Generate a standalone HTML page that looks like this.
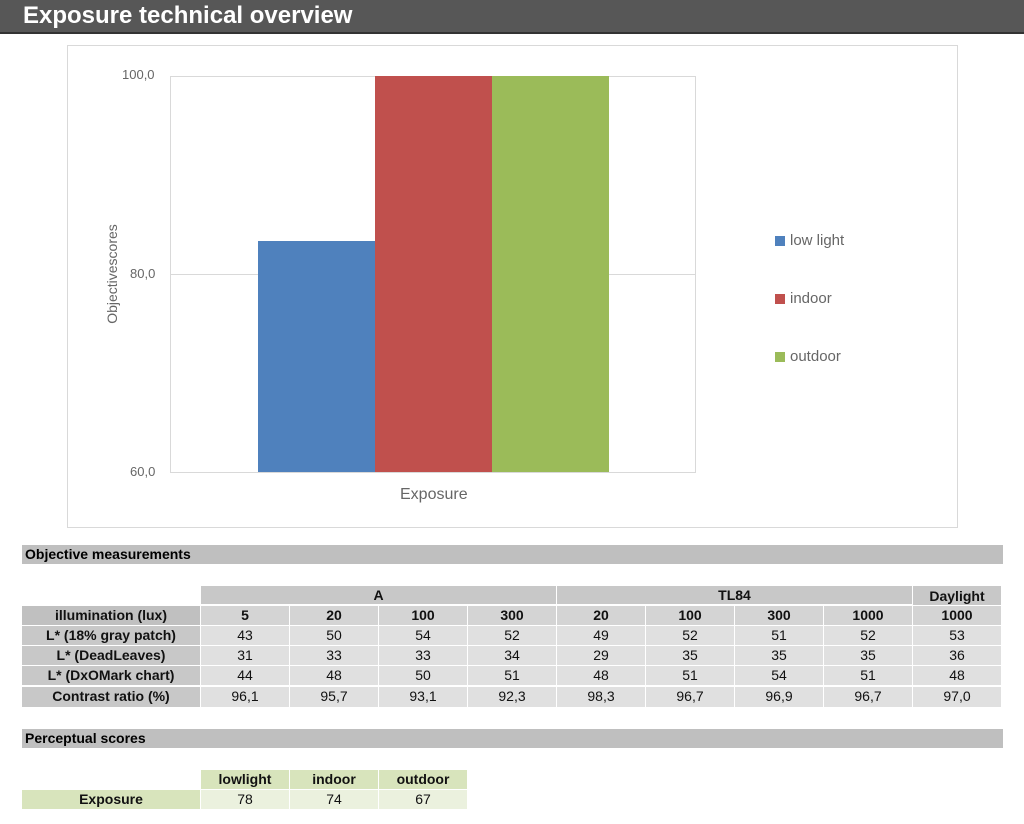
<!DOCTYPE html><html><head><style>
body{margin:0;width:1024px;height:824px;background:#fff;position:relative;font-family:"Liberation Sans",Arial,sans-serif;overflow:hidden}
.a{position:absolute}
.c{position:absolute;text-align:center;font-size:14px;line-height:19px;color:#111}
.b{font-weight:bold}
.ax{position:absolute;color:#666;font-size:13px}
</style></head><body>
<div class="a" style="left:0;top:0;width:1024px;height:32px;background:#575757;border-bottom:2px solid #333"></div>
<div class="a" style="left:23px;top:3px;color:#fff;font-weight:bold;font-size:24px;line-height:26px">Exposure technical overview</div>

<div class="a" style="left:67px;top:45px;width:889px;height:481px;border:1px solid #d9d9d9"></div>
<div class="a" style="left:170px;top:76px;width:525px;height:1px;background:#d9d9d9"></div>
<div class="a" style="left:170px;top:274px;width:525px;height:1px;background:#d9d9d9"></div>
<div class="a" style="left:170px;top:472px;width:525px;height:1px;background:#d9d9d9"></div>
<div class="a" style="left:170px;top:76px;width:1px;height:397px;background:#d9d9d9"></div>
<div class="a" style="left:695px;top:76px;width:1px;height:397px;background:#d9d9d9"></div>
<div class="a" style="left:258px;top:241px;width:117px;height:231px;background:#4f81bd"></div>
<div class="a" style="left:375px;top:76px;width:117px;height:396px;background:#c0504d"></div>
<div class="a" style="left:492px;top:76px;width:117px;height:396px;background:#9bbb59"></div>
<div class="ax" style="left:122px;top:67px">100,0</div>
<div class="ax" style="left:130px;top:266px">80,0</div>
<div class="ax" style="left:130px;top:464px">60,0</div>
<div class="ax" style="left:400px;top:486px;font-size:16px">Exposure</div>
<div class="ax" style="left:52px;top:266px;width:120px;text-align:center;font-size:14px;transform:rotate(-90deg)">Objectivescores</div>
<div class="a" style="left:775px;top:236px;width:10px;height:10px;background:#4f81bd"></div>
<div class="ax" style="left:790px;top:232px;font-size:15px">low light</div>
<div class="a" style="left:775px;top:294px;width:10px;height:10px;background:#c0504d"></div>
<div class="ax" style="left:790px;top:290px;font-size:15px">indoor</div>
<div class="a" style="left:775px;top:352px;width:10px;height:10px;background:#9bbb59"></div>
<div class="ax" style="left:790px;top:348px;font-size:15px">outdoor</div>

<div class="a" style="left:22px;top:545px;width:981px;height:19px;background:#bfbfbf"></div>
<div class="a b" style="left:25px;top:546px;font-size:14px">Objective measurements</div>

<div class="c b" style="left:201px;top:586px;width:355px;height:18px;background:#c8c8c8">A</div>
<div class="c b" style="left:557px;top:586px;width:355px;height:18px;background:#c8c8c8">TL84</div>
<div class="c b" style="left:913px;top:586px;width:88px;height:19px;background:#c8c8c8;line-height:20px">Daylight</div>

<div id="t"></div>

<div class="a" style="left:22px;top:729px;width:981px;height:19px;background:#bfbfbf"></div>
<div class="a b" style="left:25px;top:730px;font-size:14px">Perceptual scores</div>
<div class="c b" style="left:201px;top:770px;width:88px;height:19px;background:#d8e4bc">lowlight</div>
<div class="c b" style="left:290px;top:770px;width:88px;height:19px;background:#d8e4bc">indoor</div>
<div class="c b" style="left:379px;top:770px;width:88px;height:19px;background:#d8e4bc">outdoor</div>
<div class="c b" style="left:22px;top:790px;width:178px;height:19px;background:#d8e4bc">Exposure</div>
<div class="c" style="left:201px;top:790px;width:88px;height:19px;background:#ebf1de">78</div>
<div class="c" style="left:290px;top:790px;width:88px;height:19px;background:#ebf1de">74</div>
<div class="c" style="left:379px;top:790px;width:88px;height:19px;background:#ebf1de">67</div>

<div class="c b" style="left:22px;top:606px;width:178px;height:19px;background:#c0c0c0">illumination (lux)</div>
<div class="c b" style="left:201px;top:606px;width:88px;height:19px;background:#d4d4d4">5</div>
<div class="c b" style="left:290px;top:606px;width:88px;height:19px;background:#d4d4d4">20</div>
<div class="c b" style="left:379px;top:606px;width:88px;height:19px;background:#d4d4d4">100</div>
<div class="c b" style="left:468px;top:606px;width:88px;height:19px;background:#d4d4d4">300</div>
<div class="c b" style="left:557px;top:606px;width:88px;height:19px;background:#d4d4d4">20</div>
<div class="c b" style="left:646px;top:606px;width:88px;height:19px;background:#d4d4d4">100</div>
<div class="c b" style="left:735px;top:606px;width:88px;height:19px;background:#d4d4d4">300</div>
<div class="c b" style="left:824px;top:606px;width:88px;height:19px;background:#d4d4d4">1000</div>
<div class="c b" style="left:913px;top:606px;width:88px;height:19px;background:#d4d4d4">1000</div>

<div class="c b" style="left:22px;top:626px;width:178px;height:19px;background:#c8c8c8">L* (18% gray patch)</div>
<div class="c" style="left:201px;top:626px;width:88px;height:19px;background:#e0e0e0">43</div>
<div class="c" style="left:290px;top:626px;width:88px;height:19px;background:#e0e0e0">50</div>
<div class="c" style="left:379px;top:626px;width:88px;height:19px;background:#e0e0e0">54</div>
<div class="c" style="left:468px;top:626px;width:88px;height:19px;background:#e0e0e0">52</div>
<div class="c" style="left:557px;top:626px;width:88px;height:19px;background:#e0e0e0">49</div>
<div class="c" style="left:646px;top:626px;width:88px;height:19px;background:#e0e0e0">52</div>
<div class="c" style="left:735px;top:626px;width:88px;height:19px;background:#e0e0e0">51</div>
<div class="c" style="left:824px;top:626px;width:88px;height:19px;background:#e0e0e0">52</div>
<div class="c" style="left:913px;top:626px;width:88px;height:19px;background:#e0e0e0">53</div>

<div class="c b" style="left:22px;top:646px;width:178px;height:19px;background:#c8c8c8">L* (DeadLeaves)</div>
<div class="c" style="left:201px;top:646px;width:88px;height:19px;background:#e0e0e0">31</div>
<div class="c" style="left:290px;top:646px;width:88px;height:19px;background:#e0e0e0">33</div>
<div class="c" style="left:379px;top:646px;width:88px;height:19px;background:#e0e0e0">33</div>
<div class="c" style="left:468px;top:646px;width:88px;height:19px;background:#e0e0e0">34</div>
<div class="c" style="left:557px;top:646px;width:88px;height:19px;background:#e0e0e0">29</div>
<div class="c" style="left:646px;top:646px;width:88px;height:19px;background:#e0e0e0">35</div>
<div class="c" style="left:735px;top:646px;width:88px;height:19px;background:#e0e0e0">35</div>
<div class="c" style="left:824px;top:646px;width:88px;height:19px;background:#e0e0e0">35</div>
<div class="c" style="left:913px;top:646px;width:88px;height:19px;background:#e0e0e0">36</div>

<div class="c b" style="left:22px;top:666px;width:178px;height:19px;background:#c8c8c8">L* (DxOMark chart)</div>
<div class="c" style="left:201px;top:666px;width:88px;height:19px;background:#e0e0e0">44</div>
<div class="c" style="left:290px;top:666px;width:88px;height:19px;background:#e0e0e0">48</div>
<div class="c" style="left:379px;top:666px;width:88px;height:19px;background:#e0e0e0">50</div>
<div class="c" style="left:468px;top:666px;width:88px;height:19px;background:#e0e0e0">51</div>
<div class="c" style="left:557px;top:666px;width:88px;height:19px;background:#e0e0e0">48</div>
<div class="c" style="left:646px;top:666px;width:88px;height:19px;background:#e0e0e0">51</div>
<div class="c" style="left:735px;top:666px;width:88px;height:19px;background:#e0e0e0">54</div>
<div class="c" style="left:824px;top:666px;width:88px;height:19px;background:#e0e0e0">51</div>
<div class="c" style="left:913px;top:666px;width:88px;height:19px;background:#e0e0e0">48</div>

<div class="c b" style="left:22px;top:687px;width:178px;height:20px;background:#c8c8c8">Contrast ratio (%)</div>
<div class="c" style="left:201px;top:687px;width:88px;height:20px;background:#e0e0e0">96,1</div>
<div class="c" style="left:290px;top:687px;width:88px;height:20px;background:#e0e0e0">95,7</div>
<div class="c" style="left:379px;top:687px;width:88px;height:20px;background:#e0e0e0">93,1</div>
<div class="c" style="left:468px;top:687px;width:88px;height:20px;background:#e0e0e0">92,3</div>
<div class="c" style="left:557px;top:687px;width:88px;height:20px;background:#e0e0e0">98,3</div>
<div class="c" style="left:646px;top:687px;width:88px;height:20px;background:#e0e0e0">96,7</div>
<div class="c" style="left:735px;top:687px;width:88px;height:20px;background:#e0e0e0">96,9</div>
<div class="c" style="left:824px;top:687px;width:88px;height:20px;background:#e0e0e0">96,7</div>
<div class="c" style="left:913px;top:687px;width:88px;height:20px;background:#e0e0e0">97,0</div>
</body></html>
